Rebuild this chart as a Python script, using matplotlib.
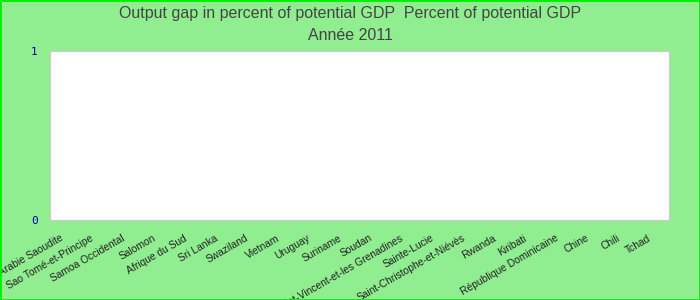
import matplotlib
matplotlib.use("Agg")
import matplotlib.pyplot as plt
import matplotlib.transforms as mtransforms
import numpy as np

categories = ["Arabie Saoudite", "Sao Tomé-et-Principe", "Samoa Occidental", "Salomon",
              "Afrique du Sud", "Sri Lanka", "Swaziland", "Vietnam", "Uruguay", "Suriname",
              "Soudan", "Saint-Vincent-et-les Grenadines", "Sainte-Lucie",
              "Saint-Christophe-et-Niévès", "Rwanda", "Kiribati", "République Dominicaine",
              "Chine", "Chili", "Tchad"]
values = [None] * len(categories)  # no data shown in the reference
y_ticks = [0, 1]

plt.rcParams['font.family'] = ['Liberation Sans', 'DejaVu Sans']

fig = plt.figure(figsize=(7, 3), dpi=100, facecolor='#90EE90')
ax = fig.add_axes([50/700, 80/300, 619/700, 169/300])
ax.set_facecolor('white')

x = np.arange(len(categories))
vals = np.array([np.nan if v is None else v for v in values], dtype=float)
ax.bar(x, vals, color='#4472c4')

ax.set_xlim(-0.5, len(categories) - 0.5)
ax.set_ylim(0, 1)
ax.set_xticks(x)
ax.set_xticklabels([])
offset = mtransforms.ScaledTranslation(-6/100, -13/100, fig.dpi_scale_trans)
trans = ax.get_xaxis_transform() + offset
for xi, cat in zip(x, categories):
    ax.text(xi, 0, cat, transform=trans, rotation=30, ha='right', va='top',
            rotation_mode='anchor', fontsize=7.4, color='#222222', clip_on=False)
ax.set_yticks(y_ticks)
ax.set_yticklabels([str(t) for t in y_ticks], fontsize=8, color='#0000aa',
                   family='DejaVu Sans Mono')
ax.tick_params(axis='both', length=0)
ax.tick_params(axis='y', pad=9)
for s in ax.spines.values():
    s.set_color('#cccccc')
    s.set_linewidth(1)

fig.text(0.5, 0.955, "Output gap in percent of potential GDP  Percent of potential GDP",
         ha='center', va='center', fontsize=11.5, color='#444444')
fig.text(0.5, 0.882, "Année 2011", ha='center', va='center', fontsize=11.5, color='#444444')

border = plt.Rectangle((0, 0), 1, 1, transform=fig.transFigure, fill=False,
                       edgecolor='#00ee00', linewidth=2)
fig.patches.append(border)

fig.savefig("out.png", dpi=100, facecolor=fig.get_facecolor())
